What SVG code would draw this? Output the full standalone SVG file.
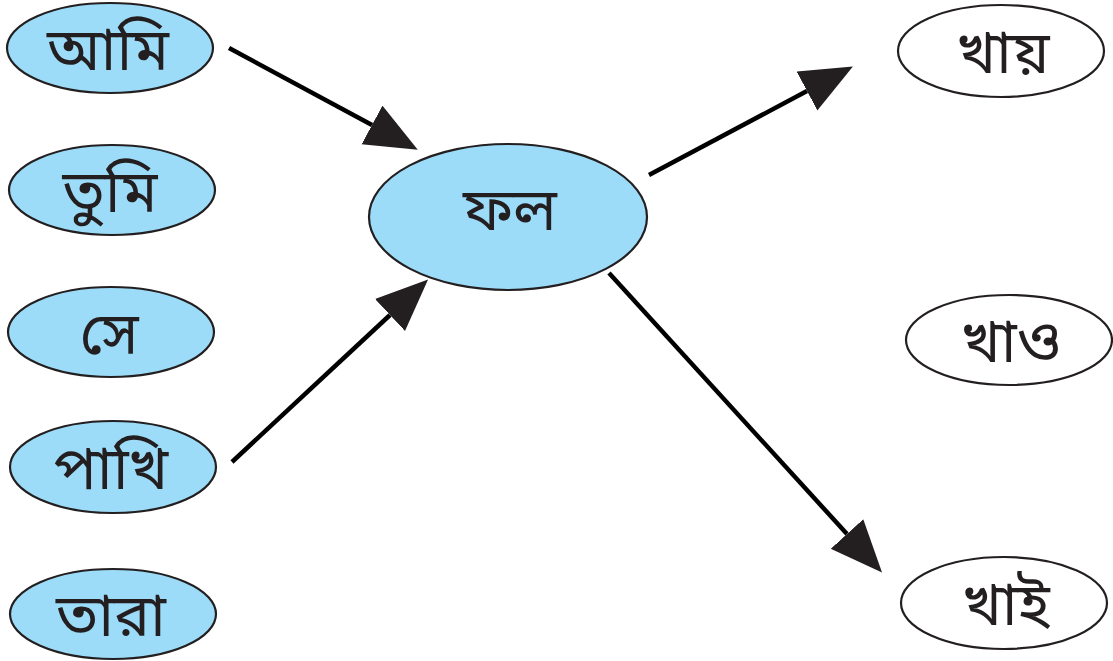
<svg xmlns="http://www.w3.org/2000/svg" width="1113" height="661" viewBox="0 0 1113 661">
<style>
.b{fill:#9ddcf8;stroke:#231f20;stroke-width:2.2}
.w{fill:#ffffff;stroke:#231f20;stroke-width:2.2}
.t{font-family:"Noto Sans Bengali","Noto Serif Bengali","Noto Sans",sans-serif;font-size:60px;fill:#231f20;text-anchor:middle}
.c{stroke:#000;stroke-width:4.5;fill:none}
</style>
<defs>
<marker id="ah" markerUnits="userSpaceOnUse" markerWidth="56" markerHeight="46" refX="0" refY="22" orient="auto">
<polygon points="0,0 52,22 0,44" fill="#231f20"/>
</marker>
</defs>
<g id="connectors">
<line class="c" x1="229" y1="48" x2="372" y2="125" marker-end="url(#ah)"/>
<line class="c" x1="232" y1="462" x2="390" y2="315" marker-end="url(#ah)"/>
<line class="c" x1="649" y1="175" x2="807" y2="91" marker-end="url(#ah)"/>
<line class="c" x1="609" y1="273" x2="847" y2="534" marker-end="url(#ah)"/>
</g>
<g id="ami"><ellipse class="b" cx="110" cy="48" rx="103" ry="45"/><text class="t" x="108" y="70">আমি</text></g>
<g id="tumi"><ellipse class="b" cx="112" cy="190" rx="103" ry="45"/><text class="t" x="110" y="212">তুমি</text></g>
<g id="se"><ellipse class="b" cx="111" cy="332" rx="103" ry="45"/><text class="t" x="109" y="354">সে</text></g>
<g id="pakhi"><ellipse class="b" cx="113" cy="467" rx="103" ry="46"/><text class="t" x="111" y="489">পাখি</text></g>
<g id="tara"><ellipse class="b" cx="113" cy="614" rx="103" ry="45"/><text class="t" x="111" y="636">তারা</text></g>
<g id="fol"><ellipse class="b" cx="508" cy="217" rx="139" ry="73"/><text class="t" x="510" y="230">ফল</text></g>
<g id="khay"><ellipse class="w" cx="1001" cy="51" rx="103" ry="46"/><text class="t" x="1003" y="73">খায়</text></g>
<g id="khao"><ellipse class="w" cx="1009" cy="340" rx="103" ry="45"/><text class="t" x="1011" y="362">খাও</text></g>
<g id="khai"><ellipse class="w" cx="1004" cy="603" rx="103" ry="46"/><text class="t" x="1006" y="625">খাই</text></g>
</svg>
